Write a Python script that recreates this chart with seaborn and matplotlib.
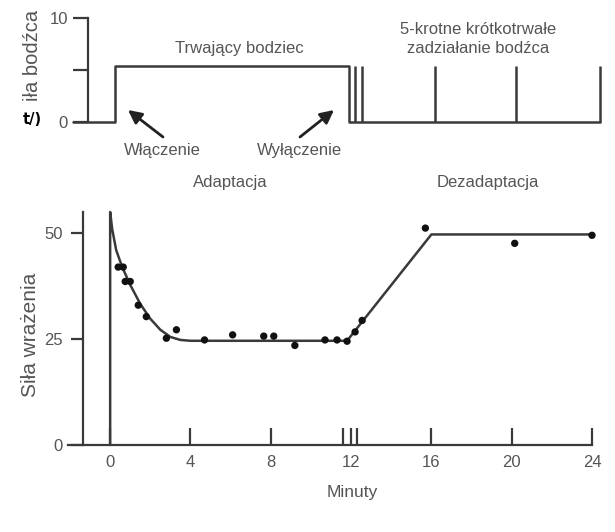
import matplotlib
matplotlib.use("Agg")
import matplotlib.pyplot as plt
import seaborn as sns
import pandas as pd

# --- stimulus (top panel) ---
stim_start = -1.85
stim_on = 0.25
stim_off = 11.9
stim_level = 5.4
pulse_times = [12.2, 12.55, 16.2, 20.2, 24.4]
stim_yticks = [0, 5, 10]
stim_yticklabels = ["0", "", "10"]

# --- sensation strength (bottom panel) ---
curve_t = [0, 0, 0.1, 0.3, 0.6, 1.0, 1.5, 2.0, 2.5, 3.0, 3.5, 4.0, 11.8, 16.0, 24.0]
curve_v = [0, 55, 51, 46, 42, 37.8, 33.3, 29.8, 27.2, 25.5, 24.8, 24.6, 24.6, 49.7, 49.7]
obs_t = [0.4, 0.65, 0.75, 1.0, 1.4, 1.8, 2.8, 3.3, 4.7, 6.1, 7.65, 8.15, 9.2,
         10.7, 11.3, 11.8, 12.2, 12.55, 15.7, 20.15, 24.0]
obs_v = [42.0, 42.0, 38.6, 38.6, 33.0, 30.3, 25.2, 27.2, 24.8, 26.0, 25.7, 25.7, 23.5,
         24.8, 24.8, 24.5, 26.7, 29.4, 51.2, 47.6, 49.5]
x_ticks = [0, 4, 8, 12, 16, 20, 24]
x_minor = [11.6, 12.3]
y_ticks = [0, 25, 50]

sns.set_style("white")
plt.rcParams["font.family"] = ["Liberation Sans", "DejaVu Sans"]

W, H = 615, 532
LINE = "#3a3a3a"
TXT = "#555555"


def px(x, y):
    """Pixel position (from top-left) to figure fraction."""
    return x / W, 1 - y / H


fig = plt.figure(figsize=(W / 100, H / 100), dpi=100)
fig.patch.set_facecolor("white")

# ---------- bottom panel ----------
axb = fig.add_axes([68 / W, 87 / H, (592 - 68) / W, (445 - 212) / H])
axb.set_xlim(-2.1, 24)
axb.set_ylim(0, 55)

curve = pd.DataFrame({"t": curve_t, "v": curve_v})
obs = pd.DataFrame({"t": obs_t, "v": obs_v})
sns.lineplot(data=curve, x="t", y="v", sort=False, estimator=None, ax=axb,
             color=LINE, lw=1.8, clip_on=False)
sns.scatterplot(data=obs, x="t", y="v", ax=axb, s=28, color="#111111",
                edgecolor="none", clip_on=False, zorder=3)

for s in ["top", "right"]:
    axb.spines[s].set_visible(False)
axb.spines["left"].set_position(("data", -1.35))
for s in ["left", "bottom"]:
    axb.spines[s].set_color(LINE)
    axb.spines[s].set_linewidth(1.6)

axb.set_xticks(x_ticks)
axb.set_xticks(x_minor, minor=True)
axb.tick_params(axis="x", which="both", bottom=True, direction="in", length=12,
                width=1.6, color=LINE, pad=7, labelsize=12, labelcolor=TXT)
axb.set_yticks(y_ticks)
axb.tick_params(axis="y", left=True, direction="out", length=8.5, width=1.6,
                color=LINE, pad=6, labelsize=12, labelcolor=TXT)
axb.set_xlabel("")
axb.set_ylabel("")

fig.text(*px(30, 335), "Siła wrażenia", rotation=90, ha="center", va="center",
         fontsize=15, color=TXT)
fig.text(*px(352, 493), "Minuty", ha="center", va="center", fontsize=12.5, color=TXT)
fig.text(*px(230, 182), "Adaptacja", ha="center", va="center", fontsize=12, color=TXT)
fig.text(*px(488, 183), "Dezadaptacja", ha="center", va="center", fontsize=12, color=TXT)

# ---------- top panel ----------
axt = fig.add_axes([68 / W, (H - 122) / H, (592 - 68) / W, (122 - 18.5) / H])
axt.set_xlim(-2.1, 24)
axt.set_ylim(0, 10)

trace = pd.DataFrame({
    "t": [stim_start, stim_on, stim_on, stim_off, stim_off, pulse_times[-1]],
    "v": [0, 0, stim_level, stim_level, 0, 0],
})
sns.lineplot(data=trace, x="t", y="v", sort=False, estimator=None, ax=axt,
             color=LINE, lw=1.8, clip_on=False)
axt.vlines(pulse_times, 0, stim_level, color=LINE, lw=1.8, clip_on=False)

for s in ["top", "right", "bottom"]:
    axt.spines[s].set_visible(False)
axt.spines["left"].set_position(("data", -1.1))
axt.spines["left"].set_color(LINE)
axt.spines["left"].set_linewidth(1.6)
axt.set_xticks([])
axt.set_yticks(stim_yticks)
axt.set_yticklabels(stim_yticklabels)
axt.tick_params(axis="y", left=True, direction="out", length=10.5, width=1.6,
                color=LINE, pad=4, labelsize=12, labelcolor=TXT)
axt.set_xlabel("")
axt.set_ylabel("")

fig.text(*px(32, 55), "iła bodźca", rotation=90, ha="center", va="center",
         fontsize=14.5, color=TXT)
fig.text(*px(32, 119), "t/)", ha="center", va="center", fontsize=10.5,
         fontweight="bold", color="black", family="DejaVu Sans")

fig.text(*px(239, 49), "Trwający bodziec", ha="center", va="center", fontsize=12, color=TXT)
fig.text(*px(478, 39), "5-krotne krótkotrwałe\nzadziałanie bodźca", ha="center",
         va="center", fontsize=12, color=TXT, linespacing=1.3)
fig.text(*px(162, 150), "Włączenie", ha="center", va="center", fontsize=12, color=TXT)
fig.text(*px(299, 150), "Wyłączenie", ha="center", va="center", fontsize=12, color=TXT)

arrow_style = dict(arrowstyle="-|>", mutation_scale=20, lw=2, color="#222222",
                   shrinkA=0, shrinkB=0)
axt.annotate("", xy=px(128, 110), xytext=px(163, 137), xycoords="figure fraction",
             textcoords="figure fraction", arrowprops=arrow_style, annotation_clip=False)
axt.annotate("", xy=px(334, 110), xytext=px(300, 137), xycoords="figure fraction",
             textcoords="figure fraction", arrowprops=arrow_style, annotation_clip=False)

fig.savefig("out.png", dpi=100, facecolor="white")
